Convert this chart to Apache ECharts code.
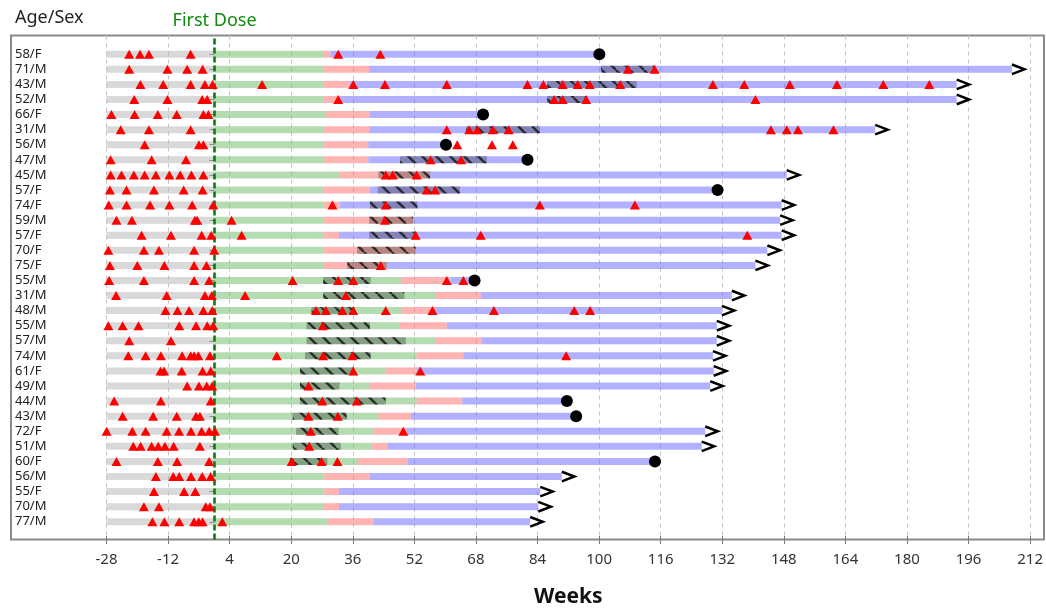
<!DOCTYPE html>
<html>
<head>
<meta charset="utf-8">
<script src="https://cdn.jsdelivr.net/npm/echarts@6.0.0/dist/echarts.min.js"></script>
<style>
  html, body { margin: 0; padding: 0; background: #fff; }
  #chart { width: 1046px; height: 613px; }
</style>
</head>
<body>
<div id="chart"></div>
<script>
// Patients, top to bottom
const patients = ['58/F','71/M','43/M','52/M','66/F','31/M','56/M','47/M','45/M','57/F','74/F',
  '59/M','57/F','70/F','75/F','55/M','31/M','48/M','55/M','57/M','74/M','61/F','49/M','44/M',
  '43/M','72/F','51/M','60/F','56/M','55/F','70/M','77/M'];

// Screening period starts here and runs up to the first dose (week 0)
const screeningStart = -28;

// End of the first treatment phase (green), weeks
const phase1End = [28.1, 28.1, 28.1, 28.1, 28.7, 28.1, 28.1, 28.1, 32.3, 28.1, 28.4,
  28.1, 28.1, 28.1, 28.1, 48.2, 57.1, 48.4, 48.0, 57.1, 52.3, 44.3, 40.0, 52.3,
  42.4, 41.1, 40.7, 36.9, 28.4, 28.4, 28.1, 29.3];

// End of the second phase (pink), weeks
const phase2End = [30.0, 40.0, 35.0, 32.5, 40.2, 40.0, 39.8, 39.8, 55.8, 40.2, 32.5,
  51.4, 32.2, 52.05, 44.55, 61.0, 68.9, 57.1, 60.1, 69.1, 64.4, 52.3, 52.05, 64.1,
  50.8, 49.7, 44.7, 49.9, 40.2, 32.2, 32.2, 41.1];

// Last follow-up week (blue phase ends here)
const lastWeek = [99.6, 206.4, 192.1, 192.1, 69.5, 171.0, 59.9, 81.0, 148.1, 130.2, 146.8,
  146.4, 146.8, 143.1, 140.0, 67.3, 133.9, 131.3, 130.0, 130.0, 129.0, 129.2, 128.3, 91.2,
  93.6, 127.0, 126.1, 114.0, 89.9, 84.3, 83.8, 81.7];

// 'death' = filled circle at the last week, 'ongoing' = arrow
const outcome = ['death','ongoing','ongoing','ongoing','death','ongoing','death','death','ongoing','death','ongoing',
  'ongoing','ongoing','ongoing','ongoing','death','ongoing','ongoing','ongoing','ongoing','ongoing','ongoing','ongoing','death',
  'death','ongoing','ongoing','death','ongoing','ongoing','ongoing','ongoing'];

// Hatched intervals per patient [start, end], weeks
const hatched = [
  [], [[100.0, 113.8]], [[86.1, 109.3]], [[86.1, 96.3]], [], [[65.1, 84.2]], [], [[48.0, 70.5]],
  [[42.4, 55.8]], [[42.2, 63.5]], [[40.2, 52.5]], [[40.0, 51.4]], [[40.0, 52.3]], [[36.9, 52.05]],
  [[34.35, 44.55]], [[28.1, 40.4]], [[28.1, 49.1]], [[25.1, 36.3]], [[23.8, 40.2]], [[23.8, 49.5]],
  [[23.4, 40.4]], [[22.1, 35.9]], [[22.1, 32.3]], [[22.1, 44.3]], [[20.2, 34.2]], [[21.1, 32.1]],
  [[20.2, 32.7]], [[19.5, 29.2]], [], [], [], []
];

// Event weeks per patient (red triangles)
const events = [
  [-22.1, -19.3, -17.0, -6.2, 32.0, 42.9],
  [-22.1, -12.2, -7.1, -3.1, 107.0, 113.9],
  [-19.2, -13.3, -6.2, -2.5, -0.5, 12.3, 35.9, 44.1, 60.1, 81.0, 85.1, 90.1, 94.0, 97.1, 105.0, 129.0, 137.1, 148.9, 161.1, 173.1, 185.0],
  [-20.8, -12.2, -3.2, -1.9, 32.0, 87.9, 90.1, 96.2, 140.0],
  [-26.7, -20.7, -14.7, -9.8, -2.9, -1.6],
  [-24.3, -17.0, -6.2, 60.1, 65.9, 68.0, 72.0, 76.1, 144.0, 148.1, 151.0, 160.2],
  [-18.1, -4.05, -2.9, 62.8, 71.8, 77.2],
  [-26.9, -16.3, -7.4, 55.9, 63.8],
  [-26.9, -24.1, -20.9, -18.1, -15.2, -11.7, -8.9, -6.0, -2.9, 44.3, 46.1, 52.3],
  [-27.1, -22.8, -15.7, -8.0, -3.1, 54.9, 57.1],
  [-27.4, -22.8, -16.7, -11.7, -5.8, -0.35, 30.5, 44.3, 84.2, 108.8],
  [-25.4, -21.4, -5.1, -4.5, 4.4, 44.1],
  [-18.9, -11.3, -3.35, -0.85, 7.0, 52.05, 68.9, 137.9],
  [-27.5, -18.3, -14.4, -5.3, -0.1],
  [-27.1, -20.0, -13.0, -5.3, -2.1, 43.0],
  [-27.3, -18.3, -5.3, -1.4, 20.2, 32.0, 35.9, 60.1, 64.4],
  [-25.5, -12.4, -2.5, -0.7, 7.9, 34.0],
  [-12.7, -9.6, -6.6, -2.9, -0.6, 26.25, 28.8, 33.1, 35.9, 44.3, 56.4, 72.3, 93.1, 97.2],
  [-27.5, -23.8, -19.7, -9.15, -4.8, -1.9, -0.35, 28.0],
  [-22.1, -11.3],
  [-22.35, -17.85, -13.9, -8.4, -6.2, -5.3, -4.2, -1.2, 16.1, 28.1, 35.65, 91.0],
  [-14.0, -13.1, -8.5, -3.1, -1.0, 35.9, 53.25],
  [-7.1, -4.05, -2.05, -0.6, 24.3],
  [-26.0, -13.9, -1.0, 27.9, 36.8],
  [-23.8, -15.9, -9.8, -4.8, -3.8, 24.3, 31.9],
  [-27.95, -21.3, -17.85, -12.4, -9.2, -6.1, -3.35, -1.4, 0.1, 24.9, 48.85],
  [-21.05, -19.15, -16.3, -14.6, -12.85, -10.6, -3.8, 24.5],
  [-25.4, -14.7, -9.7, -1.4, 19.95, 27.7, 31.8],
  [-15.2, -10.7, -9.15, -6.1, -3.2, -1.0],
  [-15.7, -7.9, -5.0],
  [-18.3, -14.4, -2.3, -1.2],
  [-16.1, -13.0, -9.15, -5.3, -4.1, -3.1, 2.0]
];

// Week axis ticks: first, step, last
const tickFirst = -28;
const tickStep = 16;
const tickLast = 212;

// Visible week range of the plot frame
const viewMin = -52.7;
const viewMax = 214.7;

// ---- styling ----
const FONT = '"Noto Sans", "DejaVu Sans", sans-serif';
const BAR_H = 7;
const phaseColors = [
  'rgba(179,179,179,0.5)',  // screening
  'rgba(105,185,100,0.5)',  // phase 1
  'rgba(255,105,105,0.5)',  // phase 2
  'rgba(100,100,255,0.5)'   // phase 3
];

function makeHatch() {
  const c = document.createElement('canvas');
  c.width = 14; c.height = 14;
  const g = c.getContext('2d');
  g.fillStyle = 'rgba(35,35,35,0.32)';
  g.fillRect(0, 0, 14, 14);
  g.strokeStyle = 'rgba(25,25,25,0.85)';
  g.lineWidth = 2.4;
  for (const k of [-14, 0, 14]) {
    g.beginPath(); g.moveTo(k, 0); g.lineTo(k + 14, 14); g.stroke();
  }
  return c;
}
const hatchFill = { image: makeHatch(), repeat: 'repeat' };

// ---- series data built from the arrays ----
const barData = [];
patients.forEach((p, i) => {
  barData.push([i, screeningStart, 0, 0]);
  barData.push([i, 0, phase1End[i], 1]);
  barData.push([i, phase1End[i], phase2End[i], 2]);
  barData.push([i, phase2End[i], lastWeek[i], 3]);
});

const hatchData = [];
hatched.forEach((list, i) => list.forEach(seg => hatchData.push([i, seg[0], seg[1]])));

const eventData = [];
events.forEach((list, i) => list.forEach(w => eventData.push([w, i])));

const deathData = [];
const ongoingData = [];
patients.forEach((p, i) => {
  if (outcome[i] === 'death') deathData.push([lastWeek[i], i]);
  else ongoingData.push([lastWeek[i], i]);
});

function renderSpan(fillFor) {
  return function (params, api) {
    const row = api.value(0);
    const a = api.coord([api.value(1), row]);
    const b = api.coord([api.value(2), row]);
    return {
      type: 'rect',
      shape: { x: a[0], y: a[1] - BAR_H / 2, width: b[0] - a[0], height: BAR_H },
      style: { fill: fillFor(api) }
    };
  };
}

function renderArrow(params, api) {
  const p = api.coord([api.value(0), api.value(1)]);
  return {
    type: 'polyline',
    shape: { points: [[p[0], p[1] - 4.8], [p[0] + 12.5, p[1]], [p[0], p[1] + 4.8]] },
    style: { stroke: '#000', lineWidth: 2.5, fill: null, lineJoin: 'miter' }
  };
}

const chart = echarts.init(document.getElementById('chart'), null, { renderer: 'canvas' });

chart.setOption({
  animation: false,
  backgroundColor: '#fff',
  title: {
    text: 'Age/Sex', left: 15, top: 9, padding: 0,
    textStyle: { fontFamily: FONT, fontSize: 18, fontWeight: 'normal', color: '#222' }
  },
  grid: [
    // frame
    { left: 11, right: 2, top: 35.5, bottom: 73.5, show: true, borderColor: '#8a8a8a', borderWidth: 2, backgroundColor: 'transparent' },
    // week ticks and grid lines
    { left: 106.5, right: 12.6, top: 35.5, bottom: 73.5 },
    // patient rows
    { left: 11, right: 2, top: 46.7, height: 482.6 }
  ],
  xAxis: [
    { gridIndex: 0, type: 'value', min: viewMin, max: viewMax, show: false },
    {
      gridIndex: 1, type: 'value', min: 0, max: tickLast - tickFirst, interval: tickStep,
      axisLine: { show: false },
      axisTick: { show: true, length: 8, lineStyle: { color: '#777', width: 1 } },
      axisLabel: { formatter: v => String(v + tickFirst), margin: 16, fontSize: 15, color: '#333', fontFamily: FONT },
      splitLine: { show: true, lineStyle: { color: '#c4c4c4', width: 1, type: [4, 4] } },
      name: 'Weeks', nameLocation: 'middle', nameGap: 51,
      nameTextStyle: { fontFamily: FONT, fontSize: 21, fontWeight: 'bold', color: '#111' }
    },
    { gridIndex: 2, type: 'value', min: viewMin, max: viewMax, show: false }
  ],
  yAxis: [
    { gridIndex: 0, type: 'value', min: 0, max: 1, show: false },
    { gridIndex: 1, type: 'value', min: 0, max: 1, show: false },
    {
      gridIndex: 2, type: 'category', data: patients, inverse: true,
      axisLine: { show: false },
      axisTick: { show: true, alignWithLabel: true, interval: 0, length: 5, lineStyle: { color: '#666' } },
      axisLabel: { inside: true, interval: 0, margin: 4, fontSize: 13, color: '#222', fontFamily: FONT },
      splitLine: { show: false }
    }
  ],
  series: [
    {
      // first-dose reference line
      type: 'line', xAxisIndex: 0, yAxisIndex: 0, data: [], silent: true,
      markLine: {
        silent: true, symbol: ['none', 'none'],
        lineStyle: { color: '#0a7d0a', width: 2.6, type: [6, 3] },
        label: { show: true, position: 'end', formatter: 'First Dose', color: '#108a10', fontSize: 18, fontFamily: FONT, distance: 6 },
        data: [{ xAxis: 0 }]
      }
    },
    {
      type: 'custom', xAxisIndex: 2, yAxisIndex: 2, z: 2, silent: true,
      renderItem: renderSpan(api => phaseColors[api.value(3)]),
      encode: { x: [1, 2], y: 0 },
      data: barData
    },
    {
      type: 'custom', xAxisIndex: 2, yAxisIndex: 2, z: 3, silent: true,
      renderItem: renderSpan(() => hatchFill),
      encode: { x: [1, 2], y: 0 },
      data: hatchData
    },
    {
      type: 'custom', xAxisIndex: 2, yAxisIndex: 2, z: 4, silent: true,
      renderItem: renderArrow,
      encode: { x: 0, y: 1 },
      data: ongoingData
    },
    {
      type: 'scatter', xAxisIndex: 2, yAxisIndex: 2, z: 4, silent: true,
      symbol: 'circle', symbolSize: 12,
      itemStyle: { color: '#000', opacity: 1 },
      data: deathData
    },
    {
      type: 'scatter', xAxisIndex: 2, yAxisIndex: 2, z: 5, silent: true,
      symbol: 'triangle', symbolSize: [10, 9],
      itemStyle: { color: '#ff0000', opacity: 1 },
      data: eventData
    }
  ]
});
</script>
</body>
</html>
